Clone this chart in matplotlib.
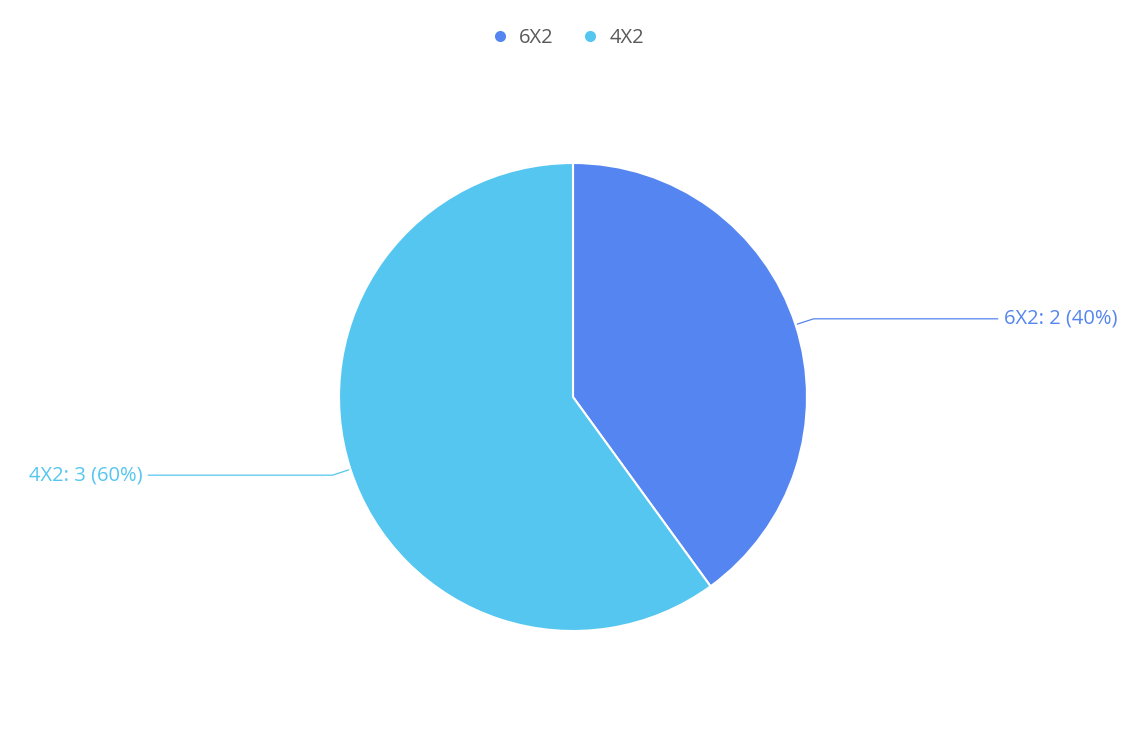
import matplotlib.pyplot as plt
from matplotlib.lines import Line2D
import numpy as np

labels = ["6X2", "4X2"]
values = [2, 3]
colors = ["#5585f0", "#55c6f0"]

W, H = 1147, 754
plt.rcParams['font.family'] = ['Open Sans', 'DejaVu Sans']

fig = plt.figure(figsize=(W / 100, H / 100), dpi=100)
ax = fig.add_axes([0, 0, 1, 1])

cx, cy, r = 573, H - 397, 234
wedges, _ = ax.pie(values, colors=colors, startangle=90, counterclock=False,
                   center=(cx, cy), radius=r, frame=True,
                   wedgeprops=dict(edgecolor='white', linewidth=1.5))
ax.set_xlim(0, W)
ax.set_ylim(0, H)
ax.set_aspect('auto')
ax.axis('off')

total = sum(values)
for w, lab, v, c in zip(wedges, labels, values, colors):
    mid = np.deg2rad((w.theta1 + w.theta2) / 2)
    x0, y0 = cx + (r + 2) * np.cos(mid), cy + (r + 2) * np.sin(mid)
    x1, y1 = cx + (r + 19) * np.cos(mid), cy + (r + 19) * np.sin(mid)
    side = 1 if np.cos(mid) > 0 else -1
    x2 = x1 + side * 184
    ax.plot([x0, x1, x2], [y0, y1, y1], color=c, lw=0.9)
    ax.text(x2 + side * 6, y1, f"{lab}: {v} ({v / total:.0%})", color=c,
            fontsize=14.5, va='center', ha='left' if side > 0 else 'right')

handles = [Line2D([], [], marker='o', ls='', color=c, markersize=9,
                  markeredgecolor='white', markeredgewidth=1) for c in colors]
ax.legend(handles, labels, loc='center', bbox_to_anchor=(567 / W, 1 - 38 / H),
          ncol=2, frameon=False, fontsize=14.5, labelcolor='#595959',
          handletextpad=0.45, columnspacing=1.3, handlelength=1.0)

fig.savefig("out.png", dpi=100)
